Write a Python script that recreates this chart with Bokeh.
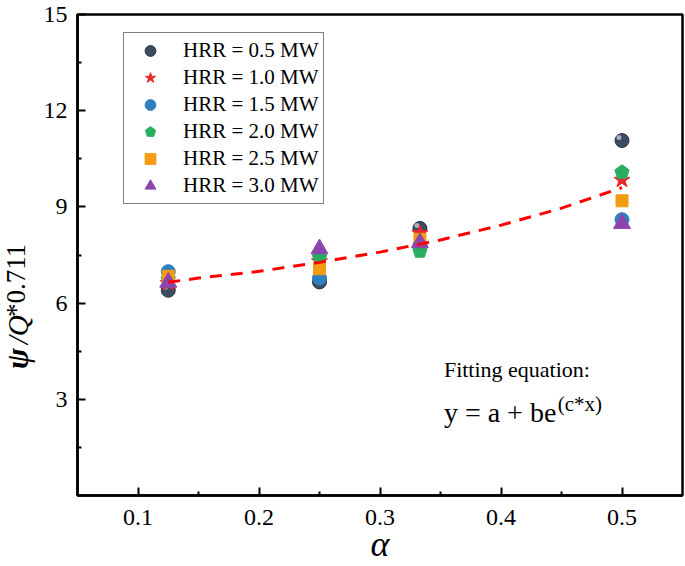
from bokeh.plotting import figure
from bokeh.models import Legend, LegendItem, Label, FixedTicker
from bokeh.layouts import row
from bokeh.core.properties import value
from bokeh.embed import file_html
from bokeh.resources import INLINE
import math

# ---- data ----
alpha = [0.125, 0.25, 0.333, 0.5]
hrr05 = [6.40, 6.66, 8.33, 11.07]
hrr10 = [6.62, 7.30, 8.18, 9.84]
hrr15 = [6.98, 6.78, 7.80, 8.60]
hrr20 = [6.75, 7.43, 7.62, 10.08]
hrr25 = [6.84, 7.07, 7.99, 9.19]
hrr30 = [6.65, 7.69, 7.88, 8.48]
series_labels = ["HRR = 0.5 MW", "HRR = 1.0 MW", "HRR = 1.5 MW",
                 "HRR = 2.0 MW", "HRR = 2.5 MW", "HRR = 3.0 MW"]

# fitted curve y = a + b*exp(c*x)
fit_x = [0.125, 0.15, 0.2, 0.25, 0.3, 0.35, 0.4, 0.45, 0.5]
fit_y = [6.65, 6.78, 6.99, 7.27, 7.59, 7.97, 8.43, 8.96, 9.60]

x_ticks = [0.1, 0.2, 0.3, 0.4, 0.5]
x_minor = [0.15, 0.25, 0.35, 0.45]
y_ticks = [3, 6, 9, 12, 15]
y_minor = [1.5, 4.5, 7.5, 10.5, 13.5]

FONT = "Liberation Serif"
H = 566
YW = 40                      # width of the y-title strip
W = 645                      # main figure width
BL, BR, BT, BB = 36, 3, 14, 70
FW, FH = W - BL - BR, H - BT - BB
XR, YR = (0.05, 0.55), (0, 15)
pxx = FW / (XR[1] - XR[0])
pxy = FH / (YR[1] - YR[0])
FL = YW + BL          # frame left (page px)
FB = BT + FH          # frame bottom (page px)

p = figure(width=W, height=H, x_range=XR, y_range=YR,
           output_backend="svg", toolbar_location=None,
           min_border_left=BL, min_border_right=BR,
           min_border_top=BT, min_border_bottom=BB)
p.grid.visible = False
p.background_fill_color = "white"
p.border_fill_color = "white"
p.outline_line_color = "black"
p.outline_line_width = 2.5

for ax in (p.xaxis[0], p.yaxis[0]):
    ax.axis_line_width = 2.5
    ax.axis_line_color = "black"
    ax.major_tick_in = 8
    ax.major_tick_out = 0
    ax.minor_tick_in = 4
    ax.minor_tick_out = 0
    ax.major_tick_line_width = 2
    ax.minor_tick_line_width = 2
    ax.major_label_text_font = FONT
    ax.major_label_text_font_size = "24px"
    ax.major_label_text_color = "black"

p.xaxis.ticker = FixedTicker(ticks=x_ticks, minor_ticks=x_minor)
p.yaxis.ticker = FixedTicker(ticks=y_ticks, minor_ticks=y_minor)
p.xaxis.major_label_standoff = 14
p.yaxis.major_label_standoff = 10
p.xaxis.axis_label = "α"
p.xaxis.axis_label_text_font = FONT
p.xaxis.axis_label_text_font_size = "36px"
p.xaxis.axis_label_text_font_style = "italic"
p.xaxis.axis_label_text_color = "black"
p.xaxis.axis_label_standoff = -4

# ---- markers ----
r05 = p.scatter(alpha, hrr05, marker="circle", size=14,
                fill_color="#3b4b61", line_color="#2a3646", line_width=1)
hx = [a - 3 / pxx for a in alpha]
hy = [v + 3 / pxy for v in hrr05]
p.scatter(hx, hy, marker="circle", size=5, fill_color="#b9c2cc",
          line_color=None, fill_alpha=0.85)
r10 = p.scatter(alpha, hrr10, marker="star", size=17,
                fill_color="#e8262e", line_color="#e8262e")
r15 = p.scatter(alpha, hrr15, marker="circle", size=14,
                fill_color="#2e81c1", line_color="#2e81c1")
r20 = p.ngon(alpha, hrr20, radius=7.5, radius_units="screen", n=5,
             angle=0,
             fill_color="#27ae60", line_color="#27ae60")
r25 = p.scatter(alpha, hrr25, marker="square", size=12,
                fill_color="#f39c12", line_color="#f39c12")
r30 = p.scatter(alpha, hrr30, marker="triangle", size=17,
                fill_color="#8e44ad", line_color="#8e44ad")

p.line(fit_x, fit_y, line_color="#ff0000", line_width=3, line_dash="12 9")

# ---- legend ----
items = [LegendItem(label=lab, renderers=[r])
         for lab, r in zip(series_labels, [r05, r10, r15, r20, r25, r30])]
legend = Legend(items=items, location=(122 - FL, FB - 205), margin=0,
                border_line_color="black", border_line_width=1.5,
                background_fill_color="white", background_fill_alpha=1,
                label_text_font=FONT, label_text_font_size="21px",
                label_text_color="black",
                padding=4, glyph_width=44, glyph_height=27, spacing=0,
                label_height=27, label_standoff=11)
p.add_layout(legend, "center")


def dx(page_x):
    return XR[0] + (page_x - FL) / pxx


def dy(page_y):
    return YR[0] + (FB - page_y) / pxy


# ---- fitting equation (inside frame) ----
p.add_layout(Label(x=dx(443), y=dy(370), text="Fitting equation:",
                   text_font=FONT, text_font_size="22px", text_color="black",
                   text_align="left", text_baseline="alphabetic"))
p.add_layout(Label(x=dx(443), y=dy(413), text="y = a + be",
                   text_font=FONT, text_font_size="28px", text_color="black",
                   text_align="left", text_baseline="alphabetic"))
p.add_layout(Label(x=dx(557), y=dy(404), text="(c*x)",
                   text_font=FONT, text_font_size="21px", text_color="black",
                   text_align="left", text_baseline="alphabetic"))

# ---- y axis title strip (composed: ψ / Q with superscript) ----
yt = figure(width=YW, height=H, x_range=(0, YW), y_range=(0, H),
            output_backend="svg", toolbar_location=None, min_border=0,
            x_axis_location=None, y_axis_location=None)
yt.grid.visible = False
yt.outline_line_color = None
yt.background_fill_color = "white"
yt.border_fill_color = "white"
yt.text(x=[17], y=[H - 417], text=["ψ"], angle=math.pi / 2,
        text_font=value(FONT), text_font_size="31px",
        text_font_style="bold italic", text_color="black",
        text_baseline="middle", text_align="left")
yt.text(x=[17], y=[H - 388], text=["/Q"], angle=math.pi / 2,
        text_font=value(FONT), text_font_size="29px",
        text_font_style="italic", text_color="black",
        text_baseline="middle", text_align="left")
yt.text(x=[15], y=[H - 356], text=["*0.711"], angle=math.pi / 2,
        text_font=value(FONT), text_font_size="27px",
        text_color="black",
        text_baseline="middle", text_align="left")

layout = row(yt, p, spacing=0)
open("out.html", "w").write(file_html(layout, INLINE))
